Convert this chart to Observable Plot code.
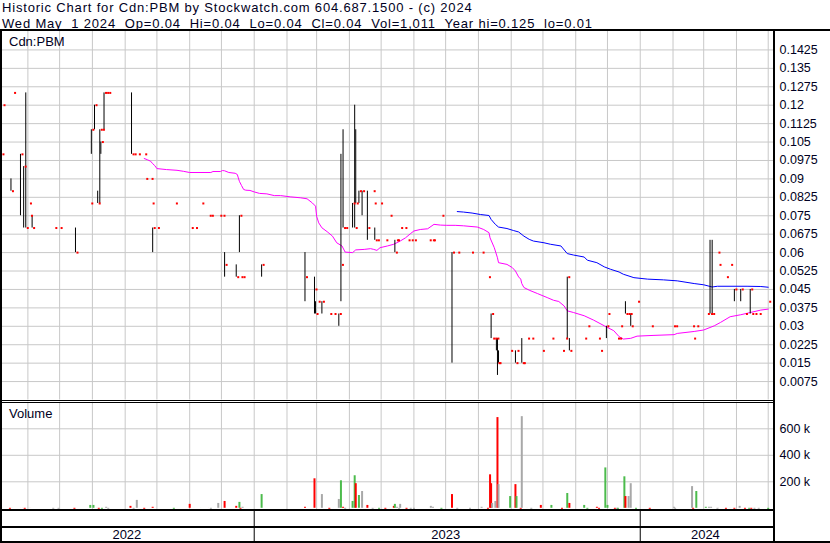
<!DOCTYPE html>
<html><head><meta charset="utf-8">
<script src="https://cdn.jsdelivr.net/npm/d3@7"></script>
<script src="https://cdn.jsdelivr.net/npm/@observablehq/plot@0.6"></script>
<style>
body{margin:0;background:#fff;}
#root{position:relative;width:830px;height:543px;overflow:hidden;background:#fff;font-family:"Liberation Sans",Arial,sans-serif;color:#000022;}
.t{position:absolute;white-space:pre;font-size:13px;line-height:15px;z-index:3;}
.title{letter-spacing:0.82px;}
.ln{position:absolute;background:#000;z-index:2;}
#root svg{position:absolute;left:0;overflow:visible;}
</style></head><body><div id="root"></div>
<script>
// ---- data ----
const titleLine1 = "Historic Chart for Cdn:PBM by Stockwatch.com 604.687.1500 - (c) 2024";
const titleLine2 = "Wed May  1 2024  Op=0.04  Hi=0.04  Lo=0.04  Cl=0.04  Vol=1,011  Year hi=0.125  lo=0.01";
const symbolLabel = "Cdn:PBM";
const volumeLabel = "Volume";
const years = ["2022", "2023", "2024"];
const priceTickLabels = ["0.0075","0.015","0.0225","0.03","0.0375","0.045","0.0525","0.06","0.0675","0.075","0.0825","0.09","0.0975","0.105","0.1125","0.12","0.1275","0.135","0.1425"];
const volTicks = [200000, 400000, 600000];
const volTickLabels = ["200 k", "400 k", "600 k"];

// daily [date, high, low, close]; two-element rows: a single price that day
const ohlc = [
["2022-05-07",.10],["2022-05-08",.12],["2022-05-16",.09,.085,.085],["2022-05-18",.125],
["2022-05-25",.10,.075,.10],["2022-05-28",.095,.07,.095],["2022-05-30",.125,.07,.07],
["2022-06-02",.08],["2022-06-03",.075],["2022-06-05",.075,.07,.07],["2022-06-26",.07],
["2022-07-01",.07],["2022-07-16",.07,.06,.06],["2022-07-30",.08],["2022-07-31",.11,.10,.11],
["2022-08-03",.12,.11,.12],["2022-08-06",.085,.08,.08],["2022-08-08",.11,.08,.11],
["2022-08-09",.105,.10,.105],["2022-08-10",.11],["2022-08-12",.125,.11,.125],
["2022-08-14",.125],["2022-08-16",.125],["2022-09-07",.125,.10,.10],["2022-09-09",.10],
["2022-09-13",.10],["2022-09-19",.10],["2022-09-20",.09],["2022-09-25",.09],["2022-09-26",.08],
["2022-09-27",.07,.06,.07],["2022-10-01",.07],["2022-10-18",.08],["2022-11-02",.07],
["2022-11-06",.07],["2022-11-12",.08],["2022-11-19",.075],["2022-11-21",.075],
["2022-11-29",.075],["2022-12-02",.075],["2022-12-04",.06,.05,.055],["2022-12-15",.055,.05,.05],
["2022-12-18",.075,.06,.075],["2022-12-19",.05],["2022-12-21",.05],["2023-01-08",.055,.05,.055],
["2023-02-18",.06,.04,.05],["2023-02-27",.05,.035,.045],["2023-02-28",.04,.035,.035],
["2023-03-02",.04],["2023-03-06",.04,.035,.04],["2023-03-13",.035],["2023-03-17",.035],
["2023-03-22",.035,.03,.035],["2023-03-24",.10,.04,.055],["2023-03-26",.11,.07,.07],
["2023-03-28",.07],["2023-04-04",.08,.07,.08],["2023-04-06",.12,.07,.07],["2023-04-07",.11,.08,.08],
["2023-04-10",.085,.08,.085],["2023-04-13",.085,.075,.085],["2023-04-18",.085,.065,.07],
["2023-04-23",.085],["2023-04-24",.08],["2023-04-25",.07,.065,.065],["2023-04-27",.065],
["2023-04-30",.08],["2023-05-05",.065],["2023-05-09",.075],["2023-05-14",.065,.06,.06],
["2023-05-15",.065],["2023-05-16",.065],["2023-05-19",.07],["2023-05-23",.07],
["2023-05-26",.065],["2023-05-29",.065],["2023-06-01",.065],["2023-06-15",.065],
["2023-06-18",.065],["2023-06-19",.065],["2023-06-27",.075],["2023-07-07",.06,.015,.06],
["2023-07-12",.06],["2023-07-25",.06],["2023-08-04",.06],["2023-08-10",.05],
["2023-08-13",.035,.025,.035],["2023-08-14",.025],["2023-08-16",.025],["2023-08-18",.025,.02,.025],
["2023-08-19",.025,.01,.015],["2023-08-20",.02,.015,.015],["2023-08-31",.02],
["2023-09-05",.02,.015,.015],["2023-09-06",.02],["2023-09-11",.025,.015,.015],["2023-09-12",.015],
["2023-09-16",.025],["2023-09-20",.025],["2023-09-30",.02],["2023-10-09",.025],
["2023-10-19",.02],["2023-10-22",.025],["2023-10-24",.05,.025,.05],["2023-10-26",.025,.02,.02],
["2023-11-09",.025],["2023-11-12",.03],["2023-11-22",.025],["2023-11-24",.02],
["2023-11-30",.03,.025,.03],["2023-12-01",.035],["2023-12-10",.025],["2023-12-12",.025],
["2023-12-13",.03],["2023-12-18",.04,.035,.035],["2023-12-20",.035],["2023-12-22",.035],
["2023-12-23",.035,.03,.03],["2023-12-29",.04],["2024-01-11",.03],["2024-02-01",.03],
["2024-02-03",.03],["2024-02-19",.03],["2024-02-20",.025],["2024-02-23",.03],["2024-03-04",.035],
["2024-03-07",.065,.035,.035],["2024-03-09",.065,.035,.035],["2024-03-14",.06],["2024-03-15",.055],
["2024-03-22",.05],["2024-03-26",.055],["2024-03-30",.045,.04,.045],["2024-04-05",.045,.04,.045],
["2024-04-09",.035],["2024-04-14",.045,.035,.045],["2024-04-15",.035],["2024-04-18",.035],
["2024-04-22",.035],["2024-05-01",.04]
];

// short moving average (magenta)
const maShort = [
["2022-09-19",.0983],["2022-09-22",.0978],["2022-09-25",.0972],["2022-09-27",.0962],["2022-09-29",.0954],
["2022-10-01",.0942],["2022-10-10",.0938],["2022-10-20",.0935],["2022-10-26",.0931],["2022-11-01",.0926],
["2022-11-21",.0926],["2022-11-23",.0930],["2022-11-30",.0930],["2022-12-02",.0934],["2022-12-04",.0933],
["2022-12-08",.0926],["2022-12-14",.0923],["2022-12-16",.0918],["2022-12-17",.0904],["2022-12-18",.0890],
["2022-12-20",.0873],["2022-12-22",.0857],["2022-12-24",.0854],["2022-12-28",.0853],["2023-01-01",.0847],
["2023-01-06",.0841],["2023-01-13",.0839],["2023-01-20",.0832],["2023-01-26",.0832],["2023-02-04",.0827],
["2023-02-14",.0823],["2023-02-20",.0819],["2023-02-25",.0802],["2023-02-28",.0789],["2023-03-01",.0748],
["2023-03-03",.0721],["2023-03-06",.0701],["2023-03-11",.0685],["2023-03-16",.0667],["2023-03-20",.0640],
["2023-03-25",.0627],["2023-03-28",.0602],["2023-04-04",.0600],["2023-04-07",.0611],["2023-04-15",.0613],
["2023-04-21",.0616],["2023-04-24",.0613],["2023-04-27",.0609],["2023-04-30",.0620],["2023-05-07",.0627],
["2023-05-13",.0634],["2023-05-19",.0647],["2023-05-24",.0660],["2023-05-29",.0678],["2023-06-01",.0688],
["2023-06-07",.0694],["2023-06-14",.0697],["2023-06-20",.0715],["2023-06-26",.0712],["2023-07-02",.0711],
["2023-07-10",.0711],["2023-07-18",.0709],["2023-07-31",.0704],["2023-08-06",.0694],["2023-08-11",.0681],
["2023-08-12",.0660],["2023-08-16",.0620],["2023-08-19",.0579],["2023-08-20",.0559],["2023-08-28",.0552],
["2023-09-02",.0539],["2023-09-05",.0525],["2023-09-08",.0501],["2023-09-10",.0492],["2023-09-11",.0474],
["2023-09-13",.0458],["2023-09-18",.0447],["2023-09-26",.0433],["2023-10-05",.0417],["2023-10-11",.0406],
["2023-10-16",.0401],["2023-10-21",.0383],["2023-10-24",.0363],["2023-10-30",.0356],["2023-11-09",.0343],
["2023-11-18",.0325],["2023-11-28",.0302],["2023-12-07",.0282],["2023-12-12",.0258],["2023-12-16",.0248],
["2023-12-23",.0251],["2023-12-29",.0260],["2024-01-14",.0263],["2024-02-02",.0266],["2024-02-05",.0271],
["2024-02-21",.0279],["2024-03-01",.0285],["2024-03-11",.0302],["2024-03-17",.0316],["2024-03-26",.0339],
["2024-04-05",.0347],["2024-04-14",.0356],["2024-04-24",.0366],["2024-05-01",.0370]
];

// long moving average (blue)
const maLong = [
["2023-07-12",.0767],["2023-07-18",.0765],["2023-07-26",.0761],["2023-08-03",.0755],["2023-08-11",.0751],
["2023-08-13",.0735],["2023-08-17",.0715],["2023-08-20",.0704],["2023-08-28",.0698],["2023-09-03",.0690],
["2023-09-08",.0684],["2023-09-13",.0667],["2023-09-18",.0654],["2023-09-22",.0647],["2023-10-02",.0640],
["2023-10-08",.0634],["2023-10-18",.0627],["2023-10-24",.0596],["2023-10-30",.0590],["2023-11-09",.0582],
["2023-11-12",.0569],["2023-11-21",.0559],["2023-11-28",.0542],["2023-12-04",.0532],["2023-12-12",.0521],
["2023-12-16",.0512],["2023-12-26",.0498],["2024-01-08",.0492],["2024-01-23",.0489],["2024-02-05",.0485],
["2024-02-21",.0474],["2024-03-01",.0469],["2024-03-09",.0460],["2024-03-14",.0463],["2024-04-11",.0463],
["2024-04-24",.0462],["2024-05-01",.0459]
];

// daily volume [date, shares, direction u=up d=down f=unchanged]
const volume = [
["2022-05-08",11000,"u"],["2022-05-15",4000,"d"],["2022-05-17",11000,"u"],["2022-05-25",11000,"d"],
["2022-05-27",11000,"d"],["2022-05-29",4000,"d"],["2022-06-01",11000,"u"],["2022-06-03",11000,"d"],
["2022-06-25",4000,"f"],["2022-06-30",4000,"f"],["2022-07-15",4000,"d"],["2022-07-30",33000,"u"],
["2022-08-02",33000,"u"],["2022-08-05",11000,"d"],["2022-08-07",4000,"d"],["2022-08-10",4000,"u"],
["2022-08-14",19000,"f"],["2022-08-16",4000,"f"],["2022-09-06",26000,"d"],["2022-09-09",4000,"f"],
["2022-09-12",71000,"f"],["2022-09-19",4000,"d"],["2022-09-24",11000,"f"],["2022-09-26",11000,"d"],
["2022-09-27",19000,"d"],["2022-09-30",11000,"f"],["2022-10-17",4000,"u"],["2022-11-01",41000,"d"],
["2022-11-05",11000,"f"],["2022-11-11",11000,"u"],["2022-11-19",11000,"d"],["2022-11-21",4000,"f"],
["2022-11-28",48000,"f"],["2022-12-02",11000,"f"],["2022-12-04",63000,"d"],["2022-12-15",26000,"d"],
["2022-12-18",56000,"u"],["2022-12-19",4000,"d"],["2022-12-21",19000,"f"],["2023-01-08",115000,"u"],
["2023-02-18",19000,"d"],["2023-02-27",234000,"d"],["2023-03-02",11000,"u"],["2023-03-06",115000,"f"],
["2023-03-13",4000,"d"],["2023-03-17",11000,"f"],["2023-03-22",78000,"f"],["2023-03-24",219000,"u"],
["2023-03-26",19000,"d"],["2023-03-28",4000,"f"],["2023-04-04",63000,"u"],["2023-04-06",257000,"u"],
["2023-04-07",197000,"d"],["2023-04-10",108000,"u"],["2023-04-13",138000,"f"],["2023-04-18",33000,"d"],
["2023-04-23",4000,"f"],["2023-04-25",11000,"d"],["2023-04-29",4000,"u"],["2023-05-05",4000,"d"],
["2023-05-09",11000,"u"],["2023-05-13",26000,"d"],["2023-05-14",41000,"u"],["2023-05-16",19000,"f"],
["2023-05-18",4000,"f"],["2023-05-19",41000,"f"],["2023-05-25",4000,"d"],["2023-05-29",4000,"f"],
["2023-06-01",4000,"f"],["2023-06-15",11000,"f"],["2023-06-17",26000,"f"],["2023-06-19",19000,"f"],
["2023-06-27",4000,"u"],["2023-07-07",115000,"d"],["2023-07-12",4000,"f"],["2023-07-24",4000,"f"],
["2023-08-04",19000,"f"],["2023-08-10",4000,"d"],["2023-08-12",264000,"d"],["2023-08-13",197000,"d"],
["2023-08-14",48000,"f"],["2023-08-17",63000,"f"],["2023-08-19",696000,"d"],["2023-08-20",190000,"f"],
["2023-08-31",100000,"u"],["2023-09-05",190000,"d"],["2023-09-06",100000,"u"],["2023-09-10",4000,"d"],
["2023-09-11",703000,"f"],["2023-09-16",11000,"u"],["2023-09-20",4000,"f"],["2023-09-29",33000,"d"],
["2023-10-09",33000,"u"],["2023-10-19",4000,"d"],["2023-10-22",11000,"u"],["2023-10-24",123000,"u"],
["2023-10-26",48000,"d"],["2023-11-09",33000,"u"],["2023-11-12",4000,"u"],["2023-11-21",19000,"d"],
["2023-11-23",4000,"d"],["2023-11-29",316000,"u"],["2023-12-01",33000,"u"],["2023-12-08",4000,"d"],
["2023-12-10",4000,"f"],["2023-12-11",4000,"u"],["2023-12-17",249000,"u"],["2023-12-18",100000,"d"],
["2023-12-21",100000,"f"],["2023-12-23",197000,"f"],["2023-12-28",4000,"u"],["2024-01-10",4000,"d"],
["2024-02-02",19000,"f"],["2024-02-03",4000,"f"],["2024-02-19",175000,"f"],["2024-02-20",4000,"d"],
["2024-02-23",138000,"u"],["2024-03-03",19000,"u"],["2024-03-06",19000,"f"],["2024-03-08",19000,"f"],
["2024-03-14",4000,"f"],["2024-03-15",11000,"d"],["2024-03-22",4000,"d"],["2024-03-26",11000,"u"],
["2024-03-30",4000,"d"],["2024-04-04",26000,"f"],["2024-04-09",4000,"d"],["2024-04-13",4000,"u"],
["2024-04-15",4000,"d"],["2024-04-18",4000,"f"],["2024-04-22",4000,"f"],["2024-05-01",1011,"u"]
];

// ---- build ----
const parse = d3.utcParse("%Y-%m-%d");
const xDomain = [parse("2022-05-08"), parse("2024-05-06")];
const monthTicks = d3.utcMonth.range(parse("2022-06-01"), parse("2024-05-02"));
const yearStarts = years.slice(1).map(y => parse(y + "-01-01"));
const yearEdges = [xDomain[0], ...yearStarts, xDomain[1]];
const yearMarks = years.map((y, i) => ({year: y, mid: new Date((+yearEdges[i] + +yearEdges[i + 1]) / 2)}));

const bars = ohlc.map(r => ({date: parse(r[0]), hi: r[1], lo: r.length > 2 ? r[2] : r[1], close: r.length > 3 ? r[3] : r[1]}));
const rangeBars = bars.filter(b => b.hi > b.lo);
const priceTicks = priceTickLabels.map(Number);
const priceLabel = new Map(priceTicks.map((v, i) => [v, priceTickLabels[i]]));
const volLabel = new Map(volTicks.map((v, i) => [v, volTickLabels[i]]));
const toLine = a => a.map(([d, v]) => ({date: parse(d), v}));
const vol = volume.map(([d, v, dir]) => ({date: parse(d), v, dir}));

const font = '"Liberation Sans", Arial, sans-serif';
const grid = "#c8c8c8";
const common = {width: 830, marginLeft: 2, marginRight: 57, x: {type: "utc", domain: xDomain, axis: null}};

const price = Plot.plot({
  ...common, height: 369, marginTop: 0, marginBottom: 0.5,
  y: {domain: [0, 0.15], axis: null},
  style: {fontFamily: font, fontSize: "12.5px", color: "#000022", background: "transparent"},
  marks: [
    Plot.ruleY(priceTicks, {stroke: grid}),
    Plot.ruleX(monthTicks, {stroke: grid}),
    Plot.line(toLine(maShort), {x: "date", y: "v", stroke: "#ff00ff", strokeWidth: 1}),
    Plot.line(toLine(maLong), {x: "date", y: "v", stroke: "#0000ff", strokeWidth: 1}),
    Plot.ruleX(rangeBars, {x: "date", y1: "lo", y2: "hi", stroke: "#000", strokeWidth: 1}),
    Plot.dot(bars, {x: "date", y: "close", symbol: "square", r: 1.13, fill: "#ff0000", dx: 2}),
    Plot.axisY({anchor: "right", label: null, ticks: priceTicks, tickSize: 0, tickPadding: 6, tickFormat: d => priceLabel.get(d), fill: "#000022"})
  ]
});
price.style.top = "31px";

const volPlot = Plot.plot({
  ...common, height: 108, marginTop: 0.8, marginBottom: 1.2,
  y: {domain: [0, 800000], axis: null},
  color: {domain: ["u", "d", "f"], range: ["#4cbb4c", "#ff0000", "#a8a8a8"]},
  style: {fontFamily: font, fontSize: "12.5px", color: "#000022", background: "transparent"},
  marks: [
    Plot.ruleY(volTicks, {stroke: grid}),
    Plot.ruleX(monthTicks, {stroke: grid, insetBottom: -2}),
    Plot.ruleX(vol, {x: "date", y1: 0, y2: "v", stroke: "dir", strokeWidth: 2, insetBottom: -1.5}),
    Plot.axisY({anchor: "right", label: null, ticks: volTicks, tickSize: 0, tickPadding: 6, tickFormat: d => volLabel.get(d), fill: "#000022"})
  ]
});
volPlot.style.top = "401px";

const band = Plot.plot({
  ...common, height: 33, marginTop: 0, marginBottom: 0,
  y: {axis: null},
  style: {fontFamily: font, fontSize: "13px", color: "#000022", background: "transparent"},
  marks: [
    Plot.ruleX(yearStarts, {stroke: "#000", strokeWidth: 1}),
    Plot.text(yearMarks, {x: "mid", text: "year", frameAnchor: "bottom", lineAnchor: "middle", dx: -1.5, dy: -8, fill: "#000022"})
  ]
});
band.style.top = "509px";

const root = document.getElementById("root");
root.append(price, volPlot, band);

function addText(txt, left, top, cls) {
  const d = document.createElement("div");
  d.className = "t" + (cls ? " " + cls : ""); d.textContent = txt;
  d.style.left = left + "px"; d.style.top = top + "px";
  root.append(d);
}
addText(titleLine1, 2, 0, "title");
addText(titleLine2, 2, 15.5, "title");
addText(symbolLabel, 9, 34);
addText(volumeLabel, 9, 405.5);

function addLine(l, t, w, h) {
  const d = document.createElement("div");
  d.className = "ln";
  Object.assign(d.style, {left: l + "px", top: t + "px", width: w + "px", height: h + "px"});
  root.append(d);
}
addLine(0, 29, 830, 2);      // top rule
addLine(0, 31, 2, 511);      // left border
addLine(773, 31, 2, 511);    // right border of plotting area
addLine(0, 400, 773, 1);     // double separator
addLine(0, 402, 773, 1);
addLine(0, 509, 775, 2);     // volume bottom
addLine(0, 526, 775, 2);     // band divider
addLine(0, 541, 830, 2);     // bottom border
</script>
</body></html>
